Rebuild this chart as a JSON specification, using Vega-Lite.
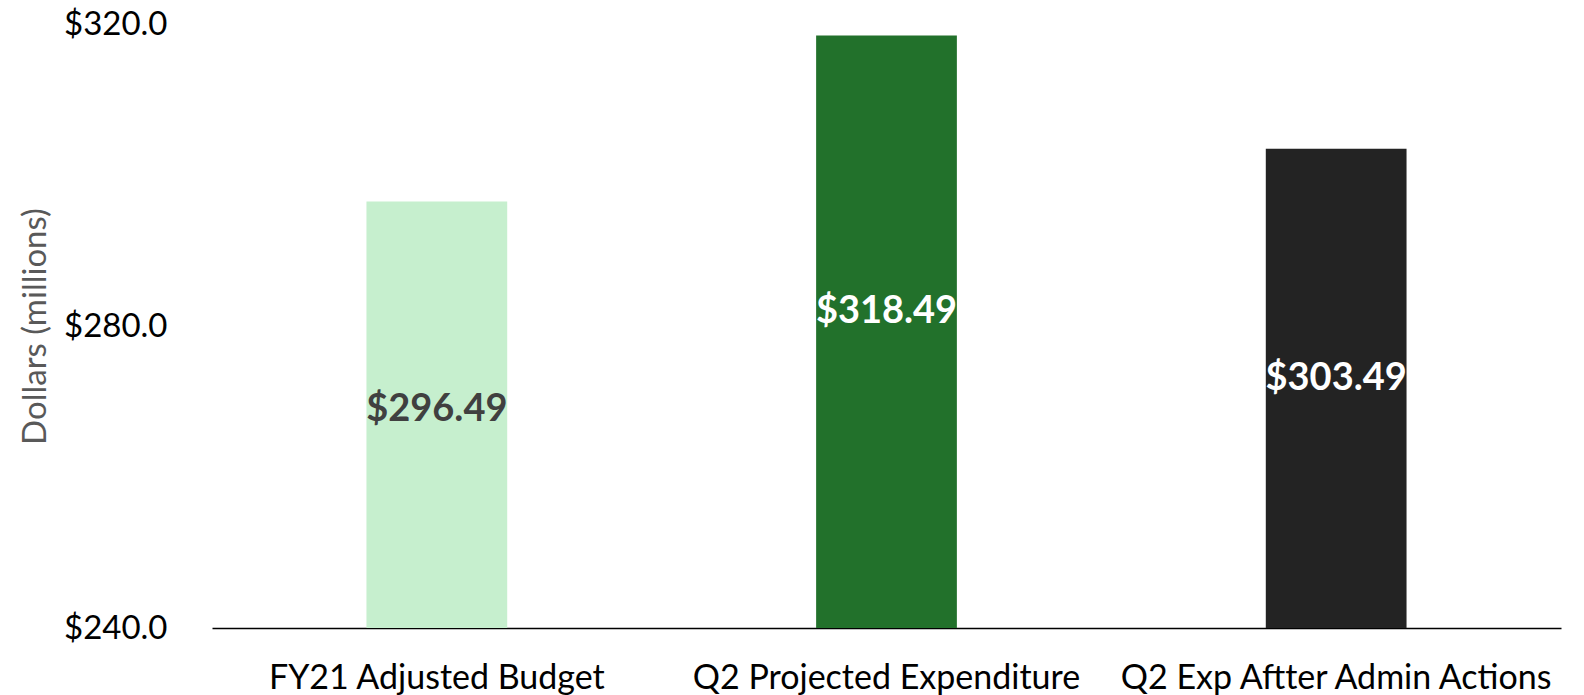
{
  "$schema": "https://vega.github.io/schema/vega-lite/v6.json",
  "width": 1349,
  "height": 604,
  "autosize": {"type": "none"},
  "padding": {"left": 212, "top": 24, "right": 23, "bottom": 67},
  "background": "white",
  "config": {"view": {"stroke": null}, "font": "Lato"},
  "data": {
    "values": [
      {"category": "FY21 Adjusted Budget", "value": 296.49, "labelColor": "#404040"},
      {"category": "Q2 Projected Expenditure", "value": 318.49, "labelColor": "#ffffff"},
      {"category": "Q2 Exp Aftter Admin Actions", "value": 303.49, "labelColor": "#ffffff"}
    ]
  },
  "encoding": {
    "x": {
      "field": "category",
      "type": "nominal",
      "sort": null,
      "scale": {"paddingInner": 0.687, "paddingOuter": 0.3435},
      "axis": {
        "title": null,
        "labelAngle": 0,
        "labelFontSize": 34,
        "labelLimit": 0,
        "labelColor": "#000000",
        "labelPadding": 33,
        "ticks": false,
        "domainColor": "#000000",
        "domainWidth": 1.5
      }
    }
  },
  "layer": [
    {
      "mark": {"type": "bar", "clip": true},
      "encoding": {
        "y": {
          "field": "value",
          "type": "quantitative",
          "scale": {"domain": [240, 320], "nice": false, "zero": false},
          "axis": {
            "values": [240, 280, 320],
            "format": "$.1f",
            "grid": false,
            "domain": false,
            "ticks": false,
            "labelFontSize": 33,
            "labelColor": "#000000",
            "labelPadding": 45,
            "title": "Dollars (millions)",
            "titleFontSize": 33,
            "titleFontWeight": "normal",
            "titleColor": "#595959",
            "titleX": -177,
            "titleY": 302,
            "titleAngle": -90,
            "titleAlign": "center",
            "titleBaseline": "middle"
          }
        },
        "y2": {"datum": 240},
        "color": {
          "field": "category",
          "type": "nominal",
          "sort": null,
          "scale": {"range": ["#C6EFCE", "#22712B", "#232323"]},
          "legend": null
        }
      }
    },
    {
      "transform": [{"calculate": "235.48 + 0.591 * (datum.value - 240)", "as": "labelPos"}],
      "mark": {"type": "text", "fontSize": 38, "fontWeight": "bold", "baseline": "middle"},
      "encoding": {
        "y": {"field": "labelPos", "type": "quantitative"},
        "text": {"field": "value", "type": "quantitative", "format": "$.2f"},
        "color": {"field": "labelColor", "type": "nominal", "scale": null}
      }
    }
  ]
}
